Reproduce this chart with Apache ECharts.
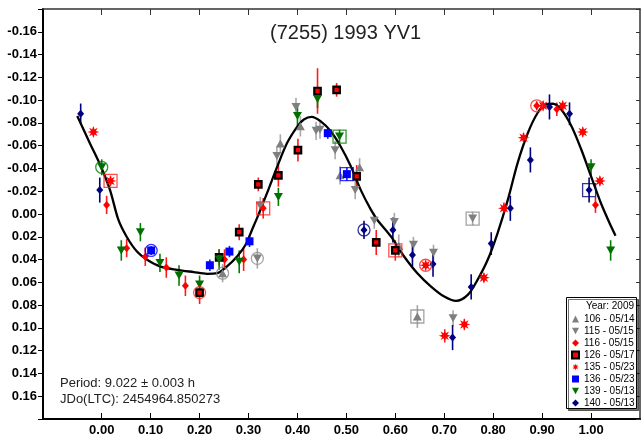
<!DOCTYPE html>
<html>
<head>
<meta charset="utf-8">
<script src="https://cdn.jsdelivr.net/npm/echarts@6/dist/echarts.min.js"></script>
<style>
html,body{margin:0;padding:0;background:#fff}
#chart{width:642px;height:437px}
</style>
</head>
<body>
<div id="chart"></div>
<script>
// Lightcurve of (7255) 1993 YV1, phased to P = 9.022 h
const titleText = '(7255) 1993 YV1';
const periodText = 'Period: 9.022 \u00b1 0.003 h';
const epochText = 'JDo(LTC): 2454964.850273';
const yearLabel = 'Year: 2009';
const phaseTicks = [0.0, 0.1, 0.2, 0.3, 0.4, 0.5, 0.6, 0.7, 0.8, 0.9, 1.0];

const sessionNames = ['106 - 05/14', '115 - 05/15', '116 - 05/15', '126 - 05/17',
                      '135 - 05/23', '136 - 05/23', '139 - 05/13', '140 - 05/13'];

// [phase, magnitude, error]
const s106 = [[0.247, 0.052, 0.008], [0.365, -0.062, 0.008], [0.406, -0.077, 0.009],
              [0.487, -0.034, 0.008], [0.527, -0.041, 0.008], [0.607, 0.028, 0.010],
              [0.645, 0.090, 0.010]];
const s115 = [[0.318, 0.039, 0.009], [0.324, -0.007, 0.008], [0.358, -0.051, 0.008],
              [0.397, -0.094, 0.008], [0.438, -0.073, 0.008], [0.446, -0.074, 0.008],
              [0.477, -0.056, 0.008], [0.518, -0.021, 0.008], [0.557, 0.006, 0.007],
              [0.598, 0.007, 0.008], [0.637, 0.027, 0.007], [0.678, 0.034, 0.007],
              [0.718, 0.0915, 0.007], [0.758, 0.004, 0.006]];
const s116 = [[0.010, -0.008, 0.008], [0.051, 0.030, 0.008], [0.089, 0.0376, 0.008],
              [0.132, 0.047, 0.009], [0.171, 0.063, 0.009], [0.251, 0.040, 0.009],
              [0.290, 0.040, 0.010], [0.330, -0.005, 0.009], [0.889, -0.095, 0.004],
              [0.930, -0.092, 0.006], [1.009, -0.008, 0.007]];
const s126 = [[0.200, 0.069, 0.010], [0.240, 0.038, 0.007], [0.281, 0.016, 0.007],
              [0.320, -0.026, 0.006], [0.361, -0.034, 0.010], [0.401, -0.056, 0.010],
              [0.441, -0.108, 0.020], [0.480, -0.109, 0.006], [0.521, -0.033, 0.010],
              [0.561, 0.025, 0.011], [0.600, 0.032, 0.009]];
const s135 = [[-0.017, -0.072, 0.004], [0.018, -0.029, 0.004], [0.662, 0.045, 0.004],
              [0.701, 0.107, 0.006], [0.741, 0.097, 0.005], [0.781, 0.056, 0.004],
              [0.822, -0.005, 0.005], [0.862, -0.067, 0.004], [0.902, -0.095, 0.004],
              [0.942, -0.095, 0.004], [0.983, -0.072, 0.004], [1.018, -0.029, 0.004]];
const s136 = [[0.101, 0.032, 0.004], [0.221, 0.045, 0.005], [0.261, 0.033, 0.005],
              [0.302, 0.024, 0.005], [0.462, -0.071, 0.005], [0.501, -0.035, 0.006]];
const s139 = [[0.000, -0.041, 0.007], [0.040, 0.032, 0.009], [0.079, 0.016, 0.008],
              [0.119, 0.043, 0.008], [0.158, 0.054, 0.009], [0.200, 0.062, 0.008],
              [0.240, 0.040, 0.009], [0.281, 0.042, 0.010], [0.361, -0.015, 0.008],
              [0.400, -0.086, 0.009], [0.441, -0.101, 0.008], [0.486, -0.068, 0.006],
              [1.000, -0.041, 0.007], [1.040, 0.032, 0.009]];
const s140 = [[-0.043, -0.088, 0.009], [-0.004, -0.021, 0.011], [0.536, 0.014, 0.008],
              [0.595, 0.014, 0.011], [0.635, 0.036, 0.010], [0.677, 0.044, 0.011],
              [0.717, 0.1085, 0.011], [0.755, 0.064, 0.011], [0.796, 0.026, 0.010],
              [0.835, -0.005, 0.011], [0.876, -0.0475, 0.011], [0.915, -0.094, 0.011],
              [0.956, -0.088, 0.010], [0.996, -0.021, 0.011]];

// first (circle) and last (square) observation of each session: [index, shape]
const rings106 = [[0, 'circle'], [6, 'square']];
const rings115 = [[0, 'circle'], [13, 'square']];
const rings116 = [[8, 'circle'], [7, 'square']];
const rings126 = [[0, 'circle'], [10, 'square']];
const rings135 = [[2, 'circle'], [1, 'square']];
const rings136 = [[0, 'circle'], [5, 'square']];
const rings139 = [[0, 'circle'], [11, 'square']];
const rings140 = [[2, 'circle'], [13, 'square']];

// Fourier fit [phase, magnitude]
const fitCurve = [[-0.050, -0.086], [-0.024, -0.062], [-0.003, -0.043], [0.017, -0.021],
  [0.034, 0.005], [0.051, 0.020], [0.072, 0.033], [0.092, 0.040], [0.119, 0.046],
  [0.154, 0.049], [0.188, 0.051], [0.215, 0.0525], [0.236, 0.052], [0.256, 0.046],
  [0.277, 0.037], [0.294, 0.027], [0.307, 0.014], [0.318, 0.003], [0.338, -0.0185],
  [0.359, -0.042], [0.379, -0.0625], [0.400, -0.077], [0.413, -0.083], [0.429, -0.0853],
  [0.447, -0.0815], [0.468, -0.0727], [0.488, -0.0595], [0.509, -0.042], [0.529, -0.0214],
  [0.550, -0.0038], [0.563, 0.005], [0.591, 0.0197], [0.618, 0.0373], [0.645, 0.052],
  [0.673, 0.0637], [0.700, 0.0725], [0.724, 0.0763], [0.748, 0.071], [0.768, 0.0578],
  [0.789, 0.040], [0.809, 0.0167], [0.830, -0.0126], [0.850, -0.0449], [0.871, -0.0713],
  [0.891, -0.0889], [0.908, -0.0962], [0.922, -0.0968], [0.939, -0.0917], [0.960, -0.0771],
  [0.980, -0.0566], [1.000, -0.033], [1.020, -0.0097], [1.041, 0.011], [1.050, 0.019]];

const sessionData = [s106, s115, s116, s126, s135, s136, s139, s140];
const sessionRings = [rings106, rings115, rings116, rings126, rings135, rings136, rings139, rings140];

const FONT = '"Liberation Sans", Arial, Helvetica, sans-serif';

// marker shapes
const DOWN = 'path://M0,0L2,0L1,1.8Z';
function starPath(n, ri) {
  let d = '';
  for (let k = 0; k < 2 * n; k++) {
    const a = Math.PI * k / n;
    const r = k % 2 === 0 ? 1 : ri;
    d += (k === 0 ? 'M' : 'L') + (r * Math.sin(a)).toFixed(3) + ',' + (-r * Math.cos(a)).toFixed(3);
  }
  return 'path://' + d + 'Z';
}
const STAR = starPath(8, 0.45);

const sessionStyles = [
  { symbol: 'triangle', size: [9, 8], color: '#7f7f7f', err: '#a8a8a8', ring: '#8c8c8c' },
  { symbol: DOWN, size: [9, 8], color: '#7f7f7f', err: '#a8a8a8', ring: '#8c8c8c' },
  { symbol: 'diamond', size: [7, 8], color: '#ff0000', err: '#ff1a1a', ring: '#ff2020' },
  { symbol: 'rect', size: 6.5, color: '#ff0000', border: '#000000', bw: 2.2, err: '#ff1a1a', ring: '#ff2020' },
  { symbol: STAR, size: 12, color: '#ff0000', err: '#ff4040', ring: '#ff2020' },
  { symbol: 'rect', size: 8, color: '#0000ff', err: '#1a1aff', ring: '#0000ff' },
  { symbol: DOWN, size: [9, 8], color: '#006f00', err: '#008000', ring: '#008000' },
  { symbol: 'diamond', size: [7, 8], color: '#000080', err: '#000080', ring: '#000080' }
];

const series = [];

sessionData.forEach((pts, i) => {
  const st = sessionStyles[i];
  series.push({
    name: sessionNames[i] + ' err',
    type: 'custom',
    z: 2,
    data: pts,
    encode: { x: 0, y: 1 },
    renderItem: (params, api) => {
      const x = api.value(0), y = api.value(1), e = api.value(2);
      const a = api.coord([x, y - e]);
      const b = api.coord([x, y + e]);
      return {
        type: 'line',
        shape: { x1: a[0], y1: a[1], x2: b[0], y2: b[1] },
        style: { stroke: st.err, lineWidth: 1.6 }
      };
    }
  });
});

series.push({
  name: 'fit',
  type: 'line',
  z: 3,
  data: fitCurve,
  smooth: 0.3,
  showSymbol: false,
  symbol: 'none',
  lineStyle: { color: '#000', width: 2.3 },
  silent: true
});

sessionData.forEach((pts, i) => {
  const st = sessionStyles[i];
  series.push({
    name: sessionNames[i],
    type: 'scatter',
    z: 4,
    symbol: st.symbol,
    symbolSize: st.size,
    data: pts.map(p => [p[0], p[1]]),
    itemStyle: {
      color: st.color,
      borderColor: st.border || st.color,
      borderWidth: st.bw || 0,
      opacity: 1
    }
  });
});

sessionRings.forEach((rs, i) => {
  const st = sessionStyles[i];
  const pts = sessionData[i];
  series.push({
    name: sessionNames[i] + ' marks',
    type: 'scatter',
    z: 5,
    silent: true,
    data: rs.map(([idx, shape]) => ({
      value: [pts[idx][0], pts[idx][1]],
      symbol: shape === 'circle' ? 'circle' : 'rect',
      symbolSize: shape === 'circle' ? 12 : 13
    })),
    itemStyle: { color: 'rgba(0,0,0,0)', borderColor: st.ring, borderWidth: 1.3 }
  });
});

const yFmt = v => {
  if (Math.abs(v) > 0.17) return '';
  const r = Math.round(v * 100) / 100;
  return (Math.abs(r) < 1e-9 ? 0 : r).toFixed(2);
};

const chart = echarts.init(document.getElementById('chart'), null, { renderer: 'canvas' });
chart.setOption({
  animation: false,
  backgroundColor: '#fff',
  grid: { left: 43, right: 2, top: 9, bottom: 18, containLabel: false },
  xAxis: [
    {
      type: 'value', position: 'bottom', min: -0.12, max: 1.10,
      axisLine: { show: true, onZero: false, lineStyle: { color: '#000', width: 2 } },
      axisTick: { show: true, inside: true, length: 6, customValues: phaseTicks, lineStyle: { color: '#000', width: 1 } },
      axisLabel: { customValues: phaseTicks, formatter: v => v.toFixed(2), color: '#000',
                   fontWeight: 'bold', fontSize: 13, fontFamily: FONT, margin: 5 },
      splitLine: { show: false }
    },
    {
      type: 'value', position: 'top', min: -0.12, max: 1.10,
      axisLine: { show: true, onZero: false, lineStyle: { color: '#333', width: 1.5 } },
      axisTick: { show: true, inside: true, length: 6, customValues: phaseTicks, lineStyle: { color: '#333', width: 1 } },
      axisLabel: { show: false },
      splitLine: { show: false }
    }
  ],
  yAxis: [
    {
      type: 'value', position: 'left', inverse: true, min: -0.18, max: 0.18, interval: 0.02,
      axisLine: { show: true, onZero: false, lineStyle: { color: '#000', width: 2 } },
      axisTick: { show: true, inside: false, length: 5, lineStyle: { color: '#000', width: 1 } },
      axisLabel: { formatter: yFmt, color: '#000', fontWeight: 'bold', fontSize: 13, fontFamily: FONT, margin: 6 },
      splitLine: { show: false }
    },
    {
      type: 'value', position: 'right', inverse: true, min: -0.18, max: 0.18, interval: 0.02,
      axisLine: { show: true, onZero: false, lineStyle: { color: '#333', width: 1.5 } },
      axisTick: { show: true, inside: true, length: 4, lineStyle: { color: '#333', width: 1 } },
      axisLabel: { show: false },
      splitLine: { show: false }
    }
  ],
  legend: {
    orient: 'vertical',
    left: 571,
    top: 313,
    padding: 0,
    itemGap: 0,
    itemWidth: 7,
    itemHeight: 7,
    selectedMode: false,
    z: 30,
    textStyle: { fontSize: 10, lineHeight: 12, fontFamily: FONT, color: '#000' },
    data: sessionNames.map((n, i) => ({ name: n, icon: sessionStyles[i].symbol }))
  },
  graphic: [
    {
      type: 'text', x: 270, y: 33, z: 20,
      style: { text: titleText, font: '20px ' + FONT, fill: '#222', verticalAlign: 'middle' }
    },
    {
      type: 'text', x: 60, y: 383, z: 20,
      style: { text: periodText, font: '13px ' + FONT, fill: '#222', verticalAlign: 'middle' }
    },
    {
      type: 'text', x: 60, y: 399, z: 20,
      style: { text: epochText, font: '13px ' + FONT, fill: '#222', verticalAlign: 'middle' }
    },
    {
      type: 'rect', z: 25,
      shape: { x: 566.5, y: 297.5, width: 70, height: 111 },
      style: { fill: '#fff', stroke: '#000', lineWidth: 1,
               shadowColor: 'rgba(0,0,0,0.55)', shadowOffsetX: 2, shadowOffsetY: 2, shadowBlur: 0 }
    },
    {
      type: 'text', x: 634, y: 306, z: 30,
      style: { text: yearLabel, font: '10px ' + FONT, fill: '#000', align: 'right', verticalAlign: 'middle' }
    }
  ],
  series: series
});
</script>
</body>
</html>
